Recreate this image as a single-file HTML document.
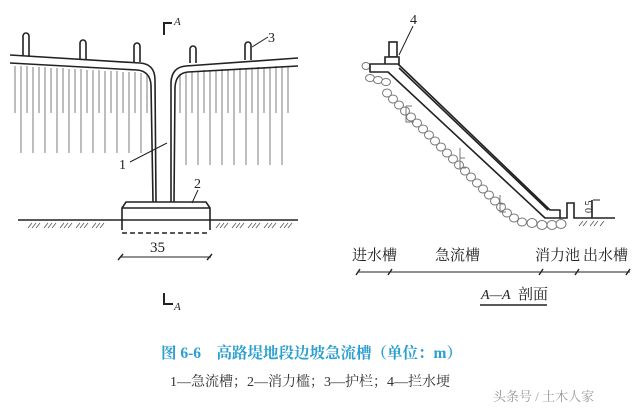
<!DOCTYPE html>
<html><head><meta charset="utf-8"><style>
html,body{margin:0;padding:0;background:#fff;}
svg{display:block;}
text{font-family:"Liberation Serif","Noto Serif CJK SC",serif;}
</style></head><body>
<svg width="640" height="410" viewBox="0 0 640 410" xmlns="http://www.w3.org/2000/svg">
<rect width="640" height="410" fill="#fff"/>
<g stroke="#888" stroke-width="1.1">
<line x1="15" y1="66" x2="15" y2="113"/><line x1="21" y1="66" x2="21" y2="153"/><line x1="27" y1="66" x2="27" y2="113"/><line x1="33" y1="67" x2="33" y2="153"/><line x1="39" y1="67" x2="39" y2="113"/><line x1="45" y1="67" x2="45" y2="153"/><line x1="51" y1="68" x2="51" y2="113"/><line x1="57" y1="68" x2="57" y2="153"/><line x1="63" y1="68" x2="63" y2="113"/><line x1="69" y1="69" x2="69" y2="153"/><line x1="75" y1="69" x2="75" y2="113"/><line x1="81" y1="69" x2="81" y2="153"/><line x1="87" y1="70" x2="87" y2="113"/><line x1="93" y1="70" x2="93" y2="153"/><line x1="99" y1="70" x2="99" y2="113"/><line x1="105" y1="71" x2="105" y2="153"/><line x1="111" y1="71" x2="111" y2="113"/><line x1="117" y1="71" x2="117" y2="153"/><line x1="123" y1="72" x2="123" y2="113"/><line x1="129" y1="72" x2="129" y2="153"/><line x1="135" y1="72" x2="135" y2="113"/><line x1="141" y1="73" x2="141" y2="153"/><line x1="147" y1="74" x2="147" y2="113"/>
<line x1="180" y1="74" x2="180" y2="113"/><line x1="186" y1="72" x2="186" y2="165"/><line x1="192" y1="71" x2="192" y2="113"/><line x1="198" y1="71" x2="198" y2="165"/><line x1="204" y1="70" x2="204" y2="113"/><line x1="210" y1="70" x2="210" y2="165"/><line x1="216" y1="70" x2="216" y2="113"/><line x1="222" y1="69" x2="222" y2="165"/><line x1="228" y1="69" x2="228" y2="113"/><line x1="234" y1="69" x2="234" y2="165"/><line x1="240" y1="68" x2="240" y2="113"/><line x1="246" y1="68" x2="246" y2="165"/><line x1="252" y1="68" x2="252" y2="113"/><line x1="258" y1="67" x2="258" y2="165"/><line x1="264" y1="67" x2="264" y2="113"/><line x1="270" y1="67" x2="270" y2="165"/><line x1="276" y1="66" x2="276" y2="113"/><line x1="282" y1="66" x2="282" y2="165"/><line x1="288" y1="66" x2="288" y2="113"/>
</g>
<g fill="none" stroke="#222" stroke-width="1.6">
<path d="M10 55 L140 63 Q155 64 155 80 L156 202"/>
<path d="M10 63 L137 70 Q150 71 151 85 L153 202"/>
<path d="M298 58 L186 66 Q172 67 171 82 L171 202"/>
<path d="M298 66 L188 72 Q176 73 175 87 L174 202"/>
<path d="M23 56 V36 a3 3 0 0 1 6 0 V56"/>
<path d="M80 59 V43 a3 3 0 0 1 6 0 V59"/>
<path d="M134 62 V46 a3 3 0 0 1 6 0 V62"/>
<path d="M190 63 V49 a3 3 0 0 1 6 0 V63"/>
<path d="M245 60 V45 a3 3 0 0 1 6 0 V60"/>
<line x1="252" y1="47" x2="268" y2="37" stroke-width="1"/>
<line x1="130" y1="162" x2="167" y2="143" stroke-width="1"/>
<line x1="192" y1="203" x2="198" y2="190" stroke-width="1"/>
<path d="M122 230 V208 L126 202 H206 L210 208 V230"/>
<line x1="122" y1="208" x2="210" y2="208"/>
<line x1="18" y1="220" x2="298" y2="220"/>
<line x1="122" y1="233" x2="210" y2="233" stroke-dasharray="5 3"/>
<line x1="120" y1="257" x2="211" y2="257" stroke-width="1"/>
<line x1="118" y1="260" x2="123" y2="254" stroke-width="1.4"/>
<line x1="207" y1="260" x2="212" y2="254" stroke-width="1.4"/>
<path d="M164 35 V23 H172" stroke-width="2"/>
<path d="M164 293 V304 H173" stroke-width="2"/>
</g>
<g stroke="#555" stroke-width="0.8">
<path d="M28 228l4-5M32 228l4-5M36 228l4-5M44 228l4-5M48 228l4-5M52 228l4-5M60 228l4-5M64 228l4-5M68 228l4-5M76 228l4-5M80 228l4-5M84 228l4-5M92 228l4-5M96 228l4-5M100 228l4-5"/>
<path d="M216 228l4-5M220 228l4-5M224 228l4-5M232 228l4-5M236 228l4-5M240 228l4-5M248 228l4-5M252 228l4-5M256 228l4-5M264 228l4-5M268 228l4-5M272 228l4-5M280 228l4-5M284 228l4-5M288 228l4-5"/>
</g>
<g font-size="14" fill="#222" font-style="italic">
<text x="174" y="25" font-size="11">A</text>
<text x="174" y="310" font-size="11">A</text>
<text x="119" y="169" font-style="normal">1</text>
<text x="194" y="188" font-style="normal">2</text>
<text x="268" y="42" font-style="normal">3</text>
<text x="150" y="252" font-style="normal" font-size="15">35</text>
<text x="410" y="24" font-style="normal">4</text>
</g>
<g fill="#fff" stroke="#777" stroke-width="1">
<ellipse cx="366" cy="66" rx="4" ry="3.5"/>
<ellipse cx="370" cy="78" rx="4.5" ry="3.5"/><ellipse cx="378" cy="80" rx="4.5" ry="3.5"/><ellipse cx="386" cy="82" rx="4.5" ry="3.5"/>
<g transform="translate(-7,7)">
<ellipse cx="394" cy="86" rx="4.5" ry="4"/><ellipse cx="400" cy="92" rx="4.5" ry="4"/><ellipse cx="406" cy="98" rx="4.5" ry="4"/><ellipse cx="412" cy="104" rx="4.5" ry="4"/><ellipse cx="418" cy="110" rx="4.5" ry="4"/><ellipse cx="424" cy="116" rx="4.5" ry="4"/><ellipse cx="430" cy="122" rx="4.5" ry="4"/><ellipse cx="436" cy="128" rx="4.5" ry="4"/><ellipse cx="442" cy="134" rx="4.5" ry="4"/><ellipse cx="448" cy="140" rx="4.5" ry="4"/><ellipse cx="454" cy="146" rx="4.5" ry="4"/><ellipse cx="460" cy="152" rx="4.5" ry="4"/><ellipse cx="466" cy="158" rx="4.5" ry="4"/><ellipse cx="472" cy="164" rx="4.5" ry="4"/><ellipse cx="478" cy="170" rx="4.5" ry="4"/><ellipse cx="484" cy="176" rx="4.5" ry="4"/><ellipse cx="490" cy="182" rx="4.5" ry="4"/><ellipse cx="496" cy="188" rx="4.5" ry="4"/><ellipse cx="502" cy="194" rx="4.5" ry="4"/><ellipse cx="508" cy="200" rx="4.5" ry="4"/><ellipse cx="514" cy="206" rx="4.5" ry="4"/><ellipse cx="521" cy="211" rx="4.5" ry="4"/><ellipse cx="529" cy="215" rx="4.5" ry="4"/>
</g>
<ellipse cx="532" cy="223" rx="5" ry="4.5"/><ellipse cx="542" cy="225" rx="5" ry="4.5"/><ellipse cx="552" cy="225" rx="5" ry="4.5"/><ellipse cx="561" cy="224" rx="5" ry="4.5"/>
</g>
<g fill="none" stroke="#777" stroke-width="1">
<path d="M406 106 H412 M406 106 V122 H414 M460 148 V168 H466 M460 158 h5 M500 195 V212 H506 M500 204 h5"/>
</g>
<g fill="none" stroke="#222" stroke-width="1.6">
<rect x="389" y="42" width="8" height="15" fill="#fff"/>
<path d="M385 66 V57 H399 V68" fill="#fff"/>
<path d="M370 72 H388 L545 218 H560 V210 L550 210 L398 64 L370 64 Z" fill="#fff" stroke-linejoin="round"/>
<line x1="399" y1="68" x2="548" y2="210"/>
<path d="M560 218 H567 V203 H574 V218 H615"/>
<line x1="592" y1="200" x2="592" y2="218"/>
<line x1="593" y1="200" x2="600" y2="200" stroke-width="1"/>
<line x1="413" y1="26" x2="399" y2="55" stroke-width="1"/>
</g>
<g stroke="#555" stroke-width="0.8"><path d="M579 226l4-5M583 226l4-5M590 226l4-5M594 226l4-5M600 226l4-5"/></g>
<text x="578" y="215" font-size="10" fill="#222" transform="rotate(-90 584 207)">0.5</text>
<g stroke="#222" stroke-width="1">
<line x1="358" y1="272" x2="630" y2="272"/>
<path d="M356 275l4-6M388 275l4-6M539 275l4-6M575 275l4-6M626 275l4-6" stroke-width="1.4"/>
</g>
<g font-size="15" fill="#222">
<text x="352" y="260">进水槽</text>
<text x="435" y="260">急流槽</text>
<text x="535" y="260">消力池</text>
<text x="583" y="260">出水槽</text>
<text x="481" y="299" font-style="italic" font-size="14">A—A</text>
<text x="518" y="299">剖面</text>
</g>
<line x1="480" y1="305" x2="547" y2="305" stroke="#222" stroke-width="1.5"/>
<text x="161" y="358" font-size="15.5" fill="#2a9fd0" font-weight="bold">图 6-6　高路堤地段边坡急流槽（单位：m）</text>
<text x="170" y="386" font-size="14" fill="#333">1—急流槽；2—消力槛；3—护栏；4—拦水埂</text>
<text x="493" y="401" font-size="13" fill="#999" font-family="Liberation Sans,'Noto Sans CJK SC',sans-serif">头条号 / 土木人家</text>
</svg>
</body></html>
